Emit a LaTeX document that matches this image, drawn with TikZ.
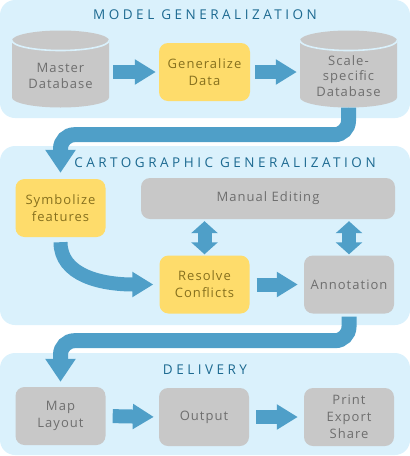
\documentclass[tikz,border=0pt]{standalone}
\usepackage{fontspec}
\setmainfont{Open Sans}
\newfontfamily\headfont[LetterSpace=26]{Open Sans}
\newfontfamily\boxfont[LetterSpace=8]{Open Sans}
\usetikzlibrary{arrows.meta}
\definecolor{panelblue}{HTML}{DAF1FC}
\definecolor{headblue}{HTML}{1D6A91}
\definecolor{boxyellow}{HTML}{FEDC6B}
\definecolor{boxgrey}{HTML}{C8C8C8}
\definecolor{ytext}{HTML}{86701E}
\definecolor{gtext}{HTML}{6E6E6E}
\definecolor{flowblue}{HTML}{4F9FC8}
\begin{document}
\begin{tikzpicture}[x=1pt, y=1pt,
  panel/.style={fill=panelblue, rounded corners=15pt},
  heading/.style={text=headblue, font=\headfont\fontsize{13.5}{16}\selectfont},
  box/.style={rounded corners=9pt, minimum width=90pt, minimum height=58pt, inner sep=0pt, align=center, font=\boxfont\fontsize{13}{17}\selectfont},
  ybox/.style={box, fill=boxyellow, text=ytext},
  gbox/.style={box, fill=boxgrey, text=gtext},
  dbtext/.style={align=center, text=gtext, yshift=-7pt, font=\boxfont\fontsize{13}{15.5}\selectfont},
  db/.style={minimum width=97pt, minimum height=77pt, inner sep=0pt,
    path picture={
      \fill[boxgrey] ([yshift=-10pt]path picture bounding box.north west)
        -- ([yshift=10pt]path picture bounding box.south west)
        arc[start angle=180, end angle=360, x radius=48.5pt, y radius=10pt]
        -- ([yshift=-10pt]path picture bounding box.north east)
        arc[start angle=0, end angle=180, x radius=48.5pt, y radius=10pt] -- cycle;
      \draw[panelblue, line width=1.6pt] ([yshift=-10pt]path picture bounding box.north west)
        arc[start angle=180, end angle=360, x radius=48.5pt, y radius=10pt];
    }},
  flow/.style={draw=flowblue, line width=14pt, -{Triangle[width=24pt, length=21pt]}},
  twoway/.style={draw=flowblue, line width=14pt, {Triangle[width=26pt, length=12pt]}-{Triangle[width=26pt, length=12pt]}},
  bigflow/.style={draw=flowblue, line width=15pt, rounded corners=14pt, -{Triangle[width=29pt, length=23pt]}}
]
\useasboundingbox (0,0) rectangle (410,-456);

% panels
\fill[panel] (0,0) rectangle (410,-118);
\fill[panel] (0,-146) rectangle (410,-325);
\fill[panel] (0,-353) rectangle (410,-455);

% model generalization
\node[heading] (modeltitle) at (205,-15) {MODEL GENERALIZATION};
\node[db, label={[dbtext]center:{Master\\Database}}] (master) at (60.5,-69) {};
\node[ybox, minimum width=91pt] (gen) at (204.5,-72) {Generalize\\Data};
\node[db, label={[dbtext]center:{Scale-\\specific\\Database}}] (scale) at (348.5,-69) {};

% cartographic generalization
\node[heading] (cartotitle) at (225,-163) {CARTOGRAPHIC GENERALIZATION};
\node[ybox] (symb) at (60.5,-208) {Symbolize\\features};
\node[gbox, minimum width=254pt, minimum height=41pt] (manual) at (268,-198.5) {Manual Editing};
\node[ybox] (resolve) at (204.5,-284.5) {Resolve\\Conflicts};
\node[gbox] (annot) at (349,-284.5) {Annotation};

% delivery
\node[heading] (deliverytitle) at (205,-370) {DELIVERY};
\node[gbox] (map) at (60.5,-416) {Map\\Layout};
\node[gbox] (output) at (204,-417) {Output};
\node[gbox] (print) at (349,-417) {Print\\Export\\Share};

% connectors
\draw[flow, shorten <=4pt, shorten >=3pt] (master.east |- gen.west) -- (gen.west);
\draw[flow, shorten <=5pt, shorten >=3pt] (gen.east) -- (scale.west |- gen.east);
\draw[bigflow] (scale.south) -- ++(0,-27) -| ([yshift=6pt]symb.north);
\draw[flow] ([yshift=-5pt]symb.south) to[out=-90, in=180] ([xshift=-26pt]resolve.west) -- ([xshift=-6pt]resolve.west);
\draw[flow, shorten <=7pt, shorten >=6pt] (resolve.east) -- (annot.west);
\draw[twoway, shorten <=2pt, shorten >=1pt] (manual.south -| resolve.north) -- (resolve.north);
\draw[twoway, shorten <=2pt, shorten >=1pt] (manual.south -| annot.north) -- (annot.north);
\draw[bigflow] ([yshift=-3pt]annot.south) -- ++(0,-24) -| ([yshift=5pt]map.north);
\draw[flow, shorten <=7pt, shorten >=5pt] (map.east) -- (output.west);
\draw[flow, shorten <=7pt, shorten >=6pt] (output.east) -- (print.west);

\end{tikzpicture}
\end{document}
